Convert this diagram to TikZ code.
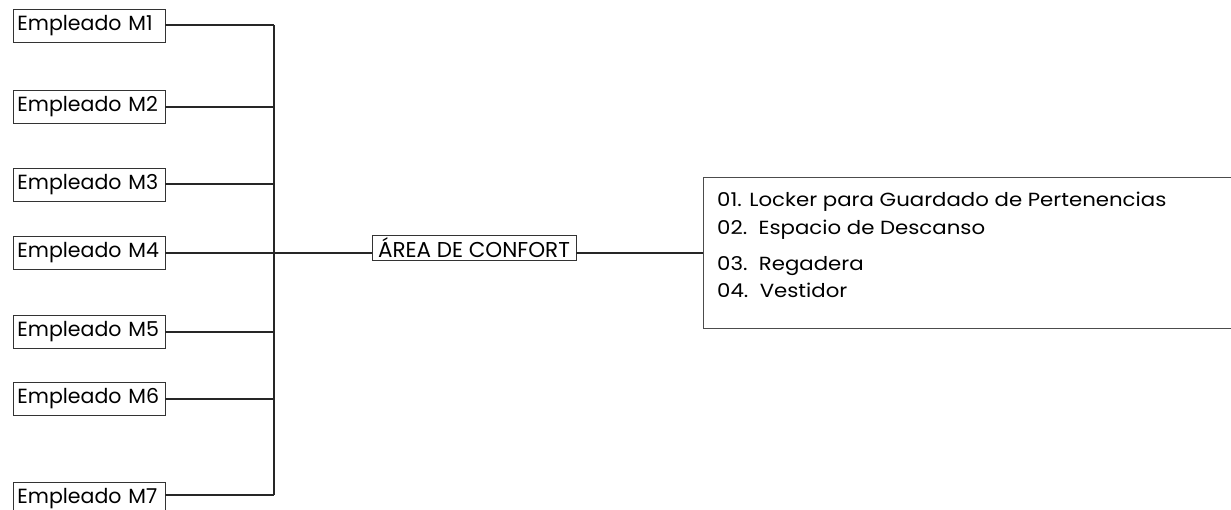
\documentclass[tikz,border=0pt]{standalone}
\usepackage{fontspec}
\setmainfont{Poppins}
\newfontfamily\listfont[FakeStretch=1.12]{Poppins}
\begin{document}
\begin{tikzpicture}[x=1pt,y=-1pt,
  wire/.style={line width=1.1pt,draw=black!85},
  empbox/.style={draw=black!80,line width=0.9pt,anchor=west,minimum width=152pt,minimum height=33pt,
    text width=143pt,align=left,inner xsep=4.5pt,inner ysep=0pt,font=\fontsize{20.5}{22}\selectfont},
  areabox/.style={draw=black!80,line width=0.9pt,minimum width=204pt,minimum height=25pt,inner sep=0pt,
    font=\fontsize{21.5}{23}\selectfont},
  listbox/.style={draw=black!70,line width=1pt,anchor=north west,minimum width=540pt,minimum height=151pt,inner sep=0pt},
  item/.style={anchor=base west,inner sep=0pt,font=\listfont\fontsize{19}{21}\selectfont}]
\clip (0,0) rectangle (1231,509);
% employee boxes
\node[empbox] (m1) at (12.5,25.5) {Empleado M1};
\node[empbox] (m2) at (12.5,107) {Empleado M2};
\node[empbox] (m3) at (12.5,185) {Empleado M3};
\node[empbox] (m4) at (12.5,253) {Empleado M4};
\node[empbox] (m5) at (12.5,332) {Empleado M5};
\node[empbox] (m6) at (12.5,399) {Empleado M6};
\node[empbox] (m7) at (12.5,499) {Empleado M7};
% collecting bus
\coordinate (bustop) at (274,25);
\coordinate (busbot) at (274,495);
\coordinate (bus4) at (274,253);
\draw[wire] (bustop) -- (busbot);
% central box and item list
\node[areabox] (area) at (474,247.5) {ÁREA DE CONFORT};
\node[listbox] (list) at (703,177) {};
\node[item] (l1) at (717,206.5) {01. Locker para Guardado de Pertenencias};
\node[item] (l2) at (717,234.5) {02.\ \ Espacio de Descanso};
\node[item] (l3) at (717,270) {03.\ \ Regadera};
\node[item] (l4) at (717,297) {04.\ \ Vestidor};
% connectors
\draw[wire] (m1.east |- bustop) -- (bustop);
\foreach \m/\y in {m2/107,m3/184,m4/253,m5/332,m6/399}
  \draw[wire] (\m.east |- 0,\y) -- (bus4 |- 0,\y);
\draw[wire] (m7.east |- busbot) -- (busbot);
\draw[wire] (bus4) -- (bus4 -| area.west);
\draw[wire] (area.east |- bus4) -- (list.west |- bus4);
\end{tikzpicture}
\end{document}
